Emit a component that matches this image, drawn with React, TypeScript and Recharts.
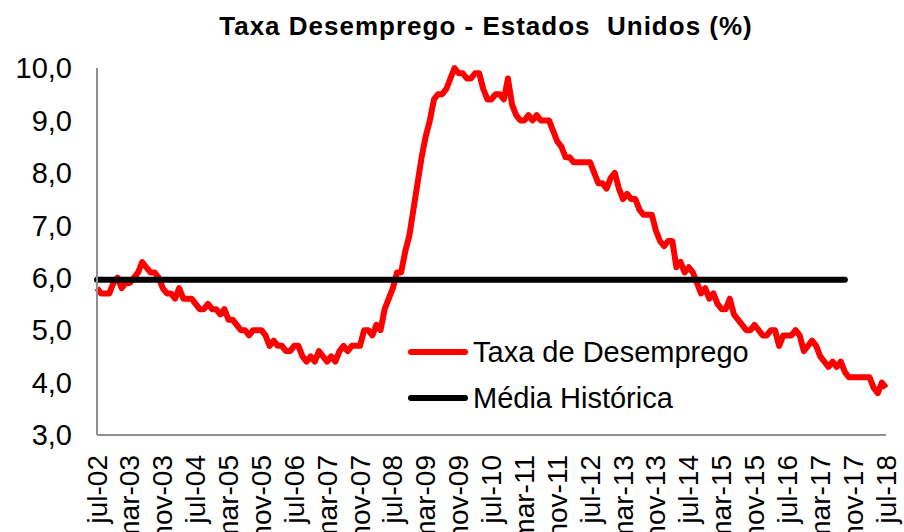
import { Legend, Line, LineChart, XAxis, YAxis } from "recharts";

const FONT = '"Liberation Sans", Arial, sans-serif';
const RED = "#ff0000";
const BLACK = "#000000";
const AXIS = "#909090";

// meses em português, série começa em jul-02
const MESES = ["jan", "fev", "mar", "abr", "mai", "jun", "jul", "ago", "set", "out", "nov", "dez"];
const INICIO_MES = 6;
const INICIO_ANO = 2;

// taxa de desemprego mensal (%), jul-02 .. jul-18
const TAXA = [
  5.8, 5.7, 5.7, 5.7, 5.9, 6.0,
  5.8, 5.9, 5.9, 6.0, 6.1, 6.3, 6.2, 6.1, 6.1, 6.0, 5.8, 5.7,
  5.7, 5.6, 5.8, 5.6, 5.6, 5.6, 5.5, 5.4, 5.4, 5.5, 5.4, 5.4,
  5.3, 5.4, 5.2, 5.2, 5.1, 5.0, 5.0, 4.9, 5.0, 5.0, 5.0, 4.9,
  4.7, 4.8, 4.7, 4.7, 4.6, 4.6, 4.7, 4.7, 4.5, 4.4, 4.5, 4.4,
  4.6, 4.5, 4.4, 4.5, 4.4, 4.6, 4.7, 4.6, 4.7, 4.7, 4.7, 5.0,
  5.0, 4.9, 5.1, 5.0, 5.4, 5.6, 5.8, 6.1, 6.1, 6.5, 6.8, 7.3,
  7.8, 8.3, 8.7, 9.0, 9.4, 9.5, 9.5, 9.6, 9.8, 10.0, 9.9, 9.9,
  9.8, 9.8, 9.9, 9.9, 9.6, 9.4, 9.4, 9.5, 9.5, 9.4, 9.8, 9.3,
  9.1, 9.0, 9.0, 9.1, 9.0, 9.1, 9.0, 9.0, 9.0, 8.8, 8.6, 8.5,
  8.3, 8.3, 8.2, 8.2, 8.2, 8.2, 8.2, 8.0, 7.8, 7.8, 7.7, 7.9,
  8.0, 7.7, 7.5, 7.6, 7.5, 7.5, 7.3, 7.2, 7.2, 7.2, 6.9, 6.7,
  6.6, 6.7, 6.7, 6.2, 6.3, 6.1, 6.2, 6.1, 5.9, 5.7, 5.8, 5.6,
  5.7, 5.5, 5.4, 5.4, 5.6, 5.3, 5.2, 5.1, 5.0, 5.0, 5.1, 5.0,
  4.9, 4.9, 5.0, 5.0, 4.7, 4.9, 4.9, 4.9, 5.0, 4.9, 4.6, 4.7,
  4.8, 4.7, 4.5, 4.4, 4.3, 4.4, 4.3, 4.4, 4.2, 4.1, 4.1, 4.1,
  4.1, 4.1, 4.1, 3.9, 3.8, 4.0, 3.9,
];

// média histórica, desenhada até set-17
const MEDIA = 5.96;
const MEDIA_FIM = "set-17";

const Y_TICKS = [3, 4, 5, 6, 7, 8, 9, 10];

const SERIES = [
  { key: "taxa", name: "Taxa de Desemprego", color: RED },
  { key: "media", name: "Média Histórica", color: BLACK },
];

const meses = TAXA.map((_, i) => {
  const m = INICIO_MES + i;
  const ano = INICIO_ANO + Math.floor(m / 12);
  return `${MESES[m % 12]}-${String(ano).padStart(2, "0")}`;
});
const fimMedia = meses.indexOf(MEDIA_FIM);
const rows = meses.map((mes, i) => ({
  mes,
  taxa: TAXA[i],
  media: i <= fimMedia ? MEDIA : null,
}));

const fmt = (v: number) => v.toFixed(1).replace(".", ",");

function MesTick({ x, y, payload }: { x: number; y: number; payload: { value: string } }) {
  return (
    <text
      transform={`translate(${x},${y}) rotate(-90)`}
      textAnchor="end"
      dominantBaseline="central"
      fontSize={28}
      fontFamily={FONT}
      fill="#000"
    >
      {payload.value}
    </text>
  );
}

function Legenda() {
  return (
    <div style={{ fontFamily: FONT, fontSize: 29, color: "#000" }}>
      {SERIES.map((s) => (
        <div key={s.key} style={{ display: "flex", alignItems: "center", height: 46 }}>
          <svg width={60} height={10} style={{ display: "block" }}>
            <line x1={3} y1={5} x2={57} y2={5} stroke={s.color} strokeWidth={6} strokeLinecap="round" />
          </svg>
          <span style={{ marginLeft: 5, lineHeight: 1 }}>{s.name}</span>
        </div>
      ))}
    </div>
  );
}

export default function App() {
  return (
    <div
      style={{
        position: "absolute",
        left: 0,
        top: 0,
        width: 904,
        height: 532,
        background: "#fff",
        fontFamily: FONT,
      }}
    >
      <div
        style={{
          position: "absolute",
          left: 486,
          top: 13,
          transform: "translateX(-50%)",
          fontSize: 26,
          lineHeight: 1,
          fontWeight: "bold",
          letterSpacing: 1,
          whiteSpace: "pre",
          color: "#000",
        }}
      >
        {"Taxa Desemprego - Estados  Unidos (%)"}
      </div>
      <LineChart width={904} height={532} data={rows} margin={{ top: 68, right: 18, bottom: 0, left: 0 }}>
        <XAxis
          dataKey="mes"
          interval={7}
          height={97}
          tickLine={false}
          tickSize={0}
          tickMargin={20}
          axisLine={{ stroke: AXIS, strokeWidth: 2 }}
          tick={(p: any) => <MesTick {...p} />}
        />
        <YAxis
          domain={[3, 10]}
          ticks={Y_TICKS}
          width={97}
          tickLine={false}
          tickSize={0}
          tickMargin={25}
          tickFormatter={fmt}
          axisLine={{ stroke: AXIS, strokeWidth: 2 }}
          tick={{ fill: "#000", fontSize: 29, fontFamily: FONT }}
        />
        <Legend
          layout="vertical"
          align="center"
          verticalAlign="middle"
          content={() => <Legenda />}
          wrapperStyle={{ left: 408, top: 329, width: "auto", height: "auto" }}
        />
        <Line
          dataKey="taxa"
          name="Taxa de Desemprego"
          type="linear"
          stroke={RED}
          strokeWidth={6}
          strokeLinejoin="round"
          dot={false}
          activeDot={false}
          isAnimationActive={false}
        />
        <Line
          dataKey="media"
          name="Média Histórica"
          type="linear"
          stroke={BLACK}
          strokeWidth={6}
          strokeLinecap="round"
          dot={false}
          activeDot={false}
          isAnimationActive={false}
        />
      </LineChart>
    </div>
  );
}
